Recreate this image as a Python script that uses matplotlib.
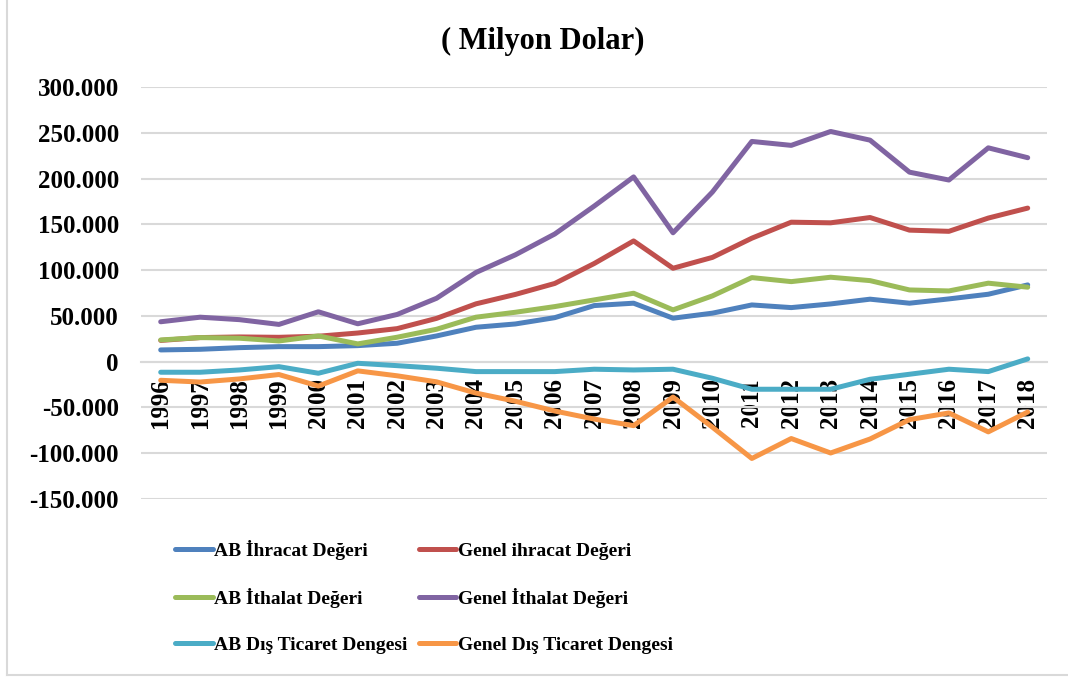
import numpy as np
import matplotlib.pyplot as plt
from matplotlib.lines import Line2D
from matplotlib.ticker import FuncFormatter

years = [str(y) for y in range(1996, 2019)]

ab_ihracat = [12.8, 13.5, 15.3, 16.4, 16.4, 17.5, 20.1, 28.1, 37.6, 41.2, 48.1, 61.3,
              63.9, 47.5, 53.0, 62.0, 59.1, 63.1, 68.3, 63.9, 68.6, 73.7, 83.9]
genel_ihracat = [23.2, 26.3, 27.0, 26.6, 27.8, 31.3, 36.1, 47.3, 63.2, 73.5, 85.5, 107.3,
                 132.0, 102.1, 114.0, 135.0, 152.5, 151.8, 157.6, 143.8, 142.5, 157.0, 167.9]
ab_ithalat = [23.7, 26.3, 25.6, 22.6, 28.1, 19.4, 26.7, 35.4, 48.6, 54.0, 60.2, 67.5,
              74.8, 56.6, 71.9, 91.9, 87.5, 92.3, 88.6, 78.4, 77.3, 85.8, 81.4]
genel_ithalat = [43.6, 48.6, 45.9, 40.7, 54.5, 41.4, 51.6, 69.3, 97.5, 116.8, 139.6, 170.1,
                 202.0, 140.9, 185.5, 240.8, 236.5, 251.7, 242.2, 207.2, 198.6, 233.8, 223.0]
ab_denge = [-11.6, -11.6, -9.1, -5.5, -12.7, -1.8, -4.4, -7.2, -10.9, -10.9, -10.9, -8.3,
            -9.1, -8.3, -18.2, -30.2, -30.2, -30.2, -19.3, -13.8, -8.3, -10.9, 3.0]
genel_denge = [-20.4, -22.3, -18.9, -14.1, -26.7, -10.1, -15.5, -22.1, -34.4, -43.3, -54.0, -62.8,
               -70.0, -38.8, -71.7, -105.9, -84.1, -99.9, -84.6, -63.4, -56.1, -76.8, -55.1]

series = [
    ("AB İhracat Değeri", ab_ihracat, "#4F81BD"),
    ("Genel ihracat Değeri", genel_ihracat, "#C0504D"),
    ("AB İthalat Değeri", ab_ithalat, "#9BBB59"),
    ("Genel İthalat Değeri", genel_ithalat, "#8064A2"),
    ("AB Dış Ticaret Dengesi", ab_denge, "#4BACC6"),
    ("Genel Dış Ticaret Dengesi", genel_denge, "#F79646"),
]

plt.rcParams['font.family'] = ['Liberation Serif', 'DejaVu Serif']
plt.rcParams['font.weight'] = 'bold'

W, H = 1068, 677
fig = plt.figure(figsize=(W / 100, H / 100), dpi=100)
ax = fig.add_axes([141 / W, 1 - 498.8 / H, (1047.4 - 141) / W, (498.8 - 87.3) / H])

x = np.arange(len(years))
lines = {}
for name, vals, color in series:
    ln, = ax.plot(x, np.array(vals) * 1000, color=color, lw=3.6,
                  solid_capstyle='round', solid_joinstyle='round', label=name)
    lines[name] = ln

ax.set_xlim(-0.5, len(years) - 0.5)
ax.set_ylim(-150000, 300000)
ax.set_yticks(np.arange(-150000, 300001, 50000))
ax.yaxis.set_major_formatter(FuncFormatter(lambda v, p: f"{v:,.0f}".replace(',', '.')))
ax.grid(axis='y', color='#D9D9D9', lw=1.5)
ax.set_axisbelow(True)

for s in ['top', 'right', 'left']:
    ax.spines[s].set_visible(False)
ax.spines['bottom'].set_position(('data', 0))
ax.spines['bottom'].set_color('#D9D9D9')
ax.spines['bottom'].set_linewidth(1.5)
ax.spines['bottom'].set_zorder(0)

ax.set_xticks(x)
ax.set_xticklabels(years, rotation=90, fontsize=18, fontweight='bold')
ax.tick_params(axis='x', length=0, pad=12)
ax.tick_params(axis='y', length=0, pad=16, labelsize=18)

fig.text(543 / W, 1 - 41 / H, "( Milyon Dolar)", fontsize=22, fontweight='bold',
         ha='center', va='center')

# legend: Excel order row by row, matplotlib fills column by column
order = ["AB İhracat Değeri", "AB İthalat Değeri", "AB Dış Ticaret Dengesi",
         "Genel ihracat Değeri", "Genel İthalat Değeri", "Genel Dış Ticaret Dengesi"]
fig.legend([lines[n] for n in order], order, ncol=2, loc='upper left',
           bbox_to_anchor=(175 / W, 1 - 540 / H), frameon=False,
           prop={'size': 14, 'weight': 'bold'}, handlelength=1.95, handletextpad=0.08,
           columnspacing=0.55, labelspacing=1.45, borderpad=0, borderaxespad=0)

# outer frame (only left and bottom edges visible)
fig.add_artist(Line2D([7 / W, 7 / W], [1 - 675 / H, 1], transform=fig.transFigure,
                      color='#D9D9D9', lw=1.5))
fig.add_artist(Line2D([7 / W, 1], [1 - 675 / H, 1 - 675 / H], transform=fig.transFigure,
                      color='#D9D9D9', lw=1.5))

fig.savefig('out.png', dpi=100)
